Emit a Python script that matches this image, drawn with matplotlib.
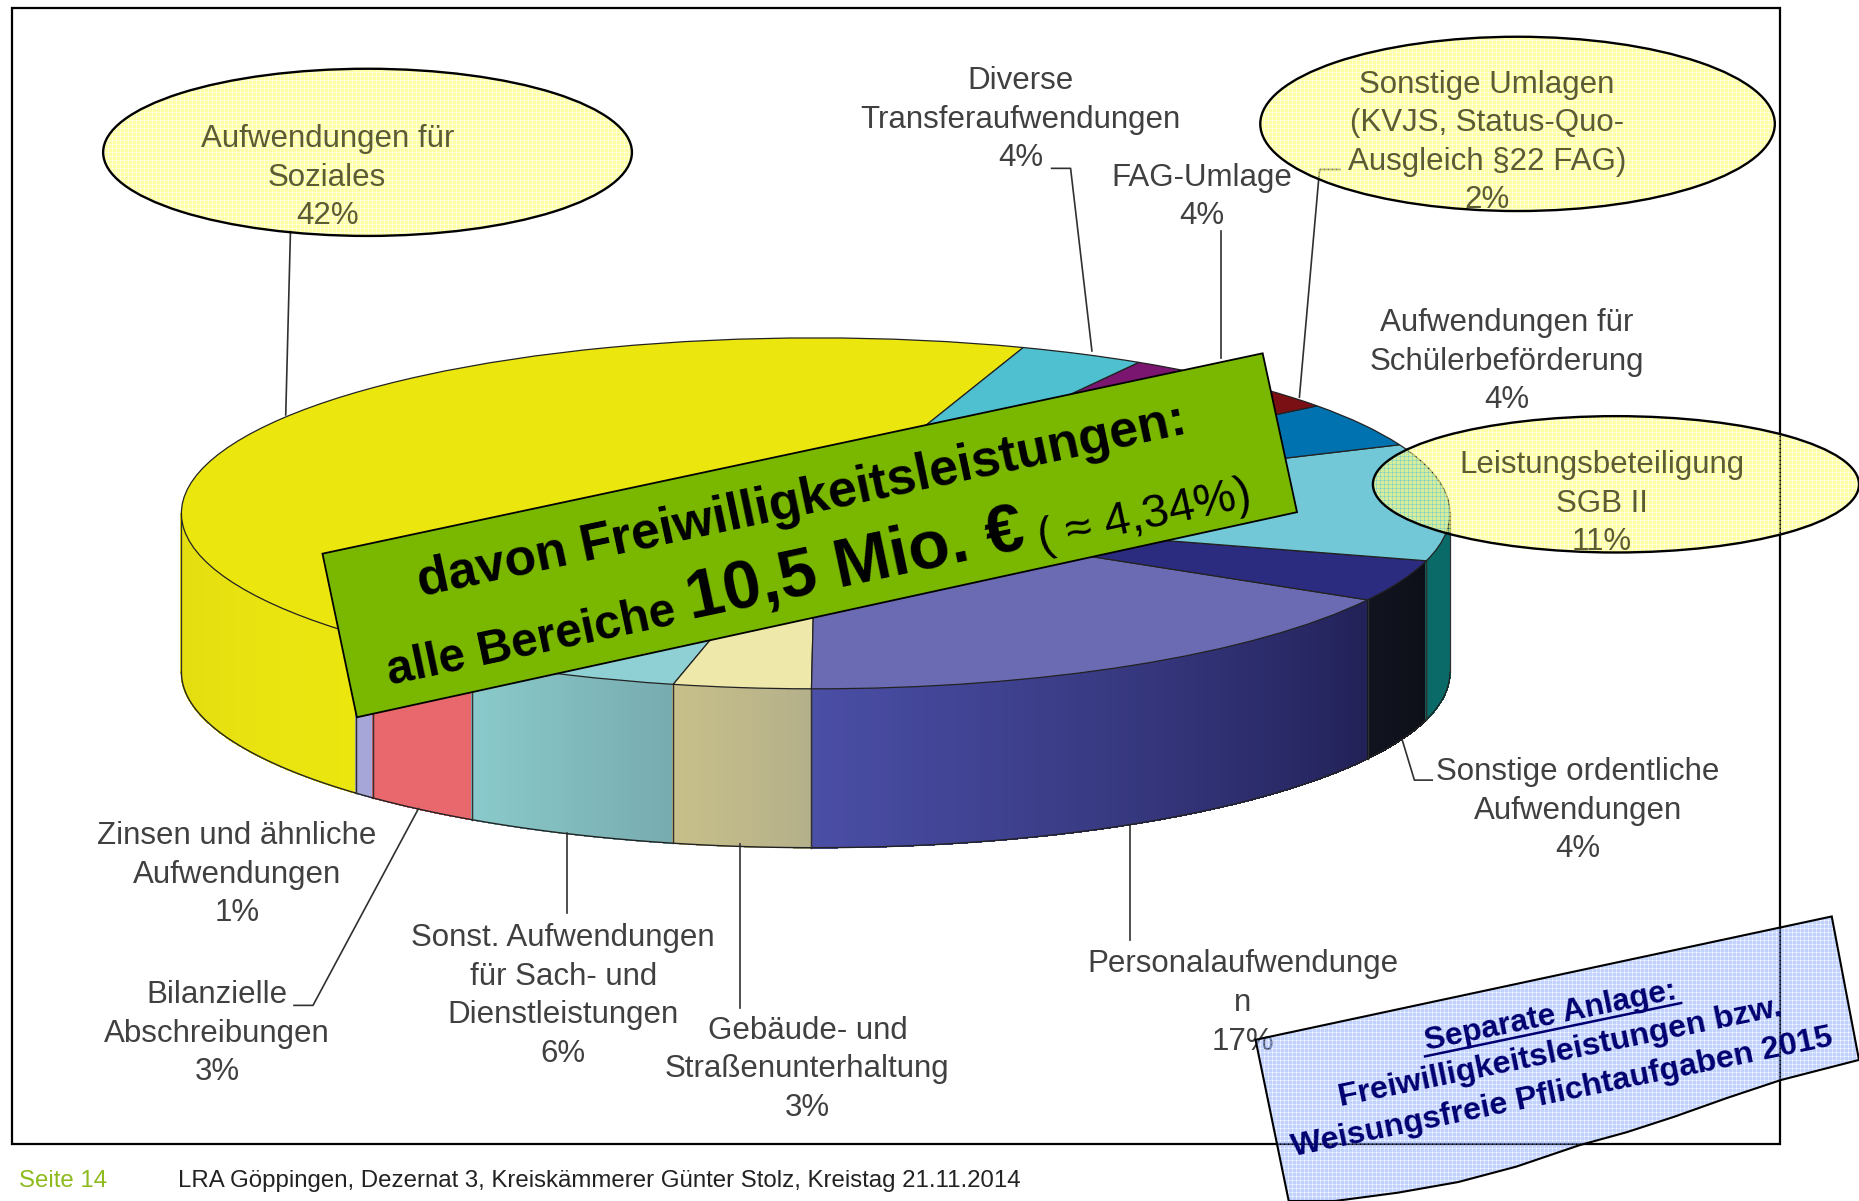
import numpy as np
import matplotlib
matplotlib.use('Agg')
import matplotlib.pyplot as plt
from matplotlib.patches import Wedge, Ellipse, Polygon, Rectangle
from matplotlib.collections import PolyCollection
from matplotlib.colors import to_rgb
from matplotlib.transforms import Affine2D

plt.rcParams['font.family'] = ['Liberation Sans', 'DejaVu Sans']

# slices, counter clockwise from the yellow one
names = ['Soziales', 'Zinsen', 'Bilanz', 'Sonst', 'Gebaeude', 'Personal', 'Sonstige',
         'Leistung', 'Schueler', 'Umlagen', 'FAG', 'Diverse']
values = [42.4, 0.6, 3.2, 5.5, 3.5, 16.9, 3.85, 10.75, 4.1, 2.0, 4.0, 3.2]
top_colors = ['#ECE60F', '#A6A6D8', '#E86A70', '#8FD0D5', '#EEE8AA', '#6B6BB3', '#2B2C80',
              '#72C8D6', '#0072B0', '#7A0F14', '#7A1570', '#4FC0D0']
side_left = ['#E2DC12', '#A6A6D8', '#E8686E', '#8ACACB', '#C8C08A', '#4A4EA5', '#11131F',
             '#0A6A68', '#0072B0', '#7A0F14', '#7A1570', '#4FC0D0']
side_right = ['#ECE60F', '#A6A6D8', '#E8686E', '#78ACB0', '#B4B08A', '#222158', '#0D0F18',
              '#0A6A68', '#0072B0', '#7A0F14', '#7A1570', '#4FC0D0']
start_angle = 70.9

labels = ['Diverse\nTransferaufwendungen\n4%', 'FAG-Umlage\n4%',
          'Aufwendungen für\nSchülerbeförderung\n4%',
          'Sonstige ordentliche\nAufwendungen\n4%', 'Personalaufwendunge\nn\n17%',
          'Gebäude- und\nStraßenunterhaltung\n3%',
          'Sonst. Aufwendungen\nfür Sach- und\nDienstleistungen\n6%',
          'Bilanzielle\nAbschreibungen\n3%', 'Zinsen und ähnliche\nAufwendungen\n1%']
label_x = [861, 1014, 1271, 1331, 1048, 681, 475, 183, 200]
label_y = [101, 166, 305, 684, 846, 902, 840, 872, 738]

# these three sit inside the yellow ellipses
oval_labels = ['Aufwendungen für\nSoziales\n42%',
               'Sonstige Umlagen\n(KVJS, Status-Quo-\nAusgleich §22 FAG)\n2%',
               'Leistungsbeteiligung\nSGB II\n11%']
oval_x = [276, 1254, 1351]
oval_y = [150, 120, 425]

leaders = [[(245, 195), (241, 350)], [(887, 142), (903, 142), (921, 296)], [(1030, 195), (1030, 302)],
           [(1130, 143), (1113, 143), (1096, 335)], [(1208, 658), (1193, 658), (1183, 625)],
           [(953, 697), (953, 793)], [(624, 712), (624, 850)], [(478, 703), (478, 770)],
           [(353, 682), (264, 848), (248, 848)]]

# picture is laid out in the coordinates of the 1568 wide preview
W, H = 1859, 1201
fig = plt.figure(figsize=(W / 100, H / 100), dpi=100)
ax = fig.add_axes([0, 0, 1, 1])
ax.axis('off')

cx, cy, rx, ry, depth = 688, 433, 535, 148, 134

ax.add_patch(Rectangle((10, 7), 1491, 958, fc='none', ec='black', lw=1.6, zorder=1))

# side wall first, then the top
angles = start_angle + np.cumsum([0] + values) * 360 / sum(values)
for i in range(len(values)):
    for shift in (0, 360):
        a = max(angles[i] - shift, 180)
        b = min(angles[i + 1] - shift, 360)
        if b <= a:
            continue
        t = np.radians(np.linspace(a, b, 60))
        px = cx + rx * np.cos(t)
        py = cy - ry * np.sin(t)
        quads = [[(px[j], py[j]), (px[j + 1], py[j + 1]), (px[j + 1], py[j + 1] + depth), (px[j], py[j] + depth)]
                 for j in range(len(t) - 1)]
        c0, c1 = np.array(to_rgb(side_left[i])), np.array(to_rgb(side_right[i]))
        cols = [c0 + (c1 - c0) * j / (len(t) - 2) for j in range(len(t) - 1)]
        ax.add_collection(PolyCollection(quads, facecolors=cols, edgecolors=cols, linewidths=0.6,
                                         antialiaseds=False, zorder=2))
        ax.plot(px, py + depth, color='#222222', lw=1.0, zorder=3)
        for k in (0, -1):
            ax.plot([px[k], px[k]], [py[k], py[k] + depth], color='#303030', lw=0.9, zorder=3)

squash = Affine2D().scale(rx, -ry).translate(cx, cy) + ax.transData
for i in range(len(values)):
    ax.add_patch(Wedge((0, 0), 1, angles[i], angles[i + 1], fc=top_colors[i], ec='#222222', lw=0.9,
                       transform=squash, zorder=4))

for pts in leaders:
    xs, ys = zip(*pts)
    ax.plot(xs, ys, color='#303030', lw=1.2, zorder=5)

for text, x, y in zip(labels, label_x, label_y):
    ax.text(x, y, text, ha='center', va='center', multialignment='center', fontsize=22.5,
            color='#404040', linespacing=1.37, zorder=6)


def dither(rgb, a_base, a_line):
    img = np.zeros((H, W, 4))
    yy, xx = np.indices((H, W))
    alpha = np.full((H, W), a_base)
    alpha[(xx % 4 == 0) | (yy % 4 == 0)] = a_line
    alpha[(xx % 4 == 0) & (yy % 4 == 0)] = 0
    img[..., :3] = to_rgb(rgb)
    img[..., 3] = alpha
    return img


yellow = dither('#FFFF80', 0.7, 0.4)
for (ex, ey, ew, eh) in [(310, 128.5, 446, 141), (1280, 104.5, 434, 147), (1363, 408.5, 410, 115)]:
    e = Ellipse((ex, ey), ew, eh, fc='none', ec='black', lw=1.7, zorder=8)
    ax.add_patch(e)
    im = ax.imshow(yellow, extent=(0, 1568, 1013, 0), interpolation='nearest', aspect='auto', zorder=7)
    im.set_clip_path(e)

for text, x, y in zip(oval_labels, oval_x, oval_y):
    ax.text(x, y, text, ha='center', va='center', multialignment='center', fontsize=22.5,
            color='#5C5C34', linespacing=1.37, zorder=7.5)

# green banner
ax.add_patch(Polygon([(272, 467), (1065, 298), (1094, 432), (301, 605)], fc='#7AB800', ec='black', lw=1.3, zorder=9))
rot = 12
banner = dict(rotation=rot, rotation_mode='anchor', ha='left', va='baseline', color='black', zorder=10)
ax.text(355, 503, 'davon Freiwilligkeitsleistungen:', fontsize=37.3, fontweight='bold', **banner)
ax.text(329, 578, 'alle Bereiche', fontsize=34.4, fontweight='bold', **banner)
ax.text(583, 522, '10,5 Mio. €', fontsize=49, fontweight='bold', **banner)
ax.text(878, 465, '( ≈ 4,34%)', fontsize=34, **banner)

# blue note, runs off the page at the lower right
note = [(1059, 877), (1545, 773), (1568, 894), (1502, 911), (1457, 926), (1412, 942), (1372, 955), (1332, 966),
        (1279, 984), (1230, 997), (1179, 1006), (1126, 1013), (1087, 1013)]
p = Polygon(note, fc='none', ec='black', lw=1.5, zorder=12)
ax.add_patch(p)
im = ax.imshow(dither('#99B4FF', 0.6, 0.35), extent=(0, 1568, 1013, 0), interpolation='nearest',
               aspect='auto', zorder=11)
im.set_clip_path(p)
rot2 = 11.6
notes = dict(rotation=rot2, rotation_mode='anchor', ha='left', va='baseline', color='#000070',
             fontweight='bold', zorder=13)
ax.text(1203, 886, 'Separate Anlage:', fontsize=22.7, **notes)
ax.plot([1202, 1418], [891, 846], color='#000070', lw=1.8, zorder=13)
ax.text(1131, 933, 'Freiwilligkeitsleistungen bzw.', fontsize=23.2, **notes)
ax.text(1091, 975, 'Weisungsfreie Pflichtaufgaben 2015', fontsize=23.2, **notes)

ax.text(16, 996, 'Seite 14', fontsize=17.3, color='#8DBB1E', va='center', ha='left')
ax.text(150, 996, 'LRA Göppingen, Dezernat 3, Kreiskämmerer Günter Stolz, Kreistag 21.11.2014',
        fontsize=17.3, color='#222222', va='center', ha='left')

ax.set_xlim(0, 1568)
ax.set_ylim(1013, 0)
fig.savefig('out.png', dpi=100)
